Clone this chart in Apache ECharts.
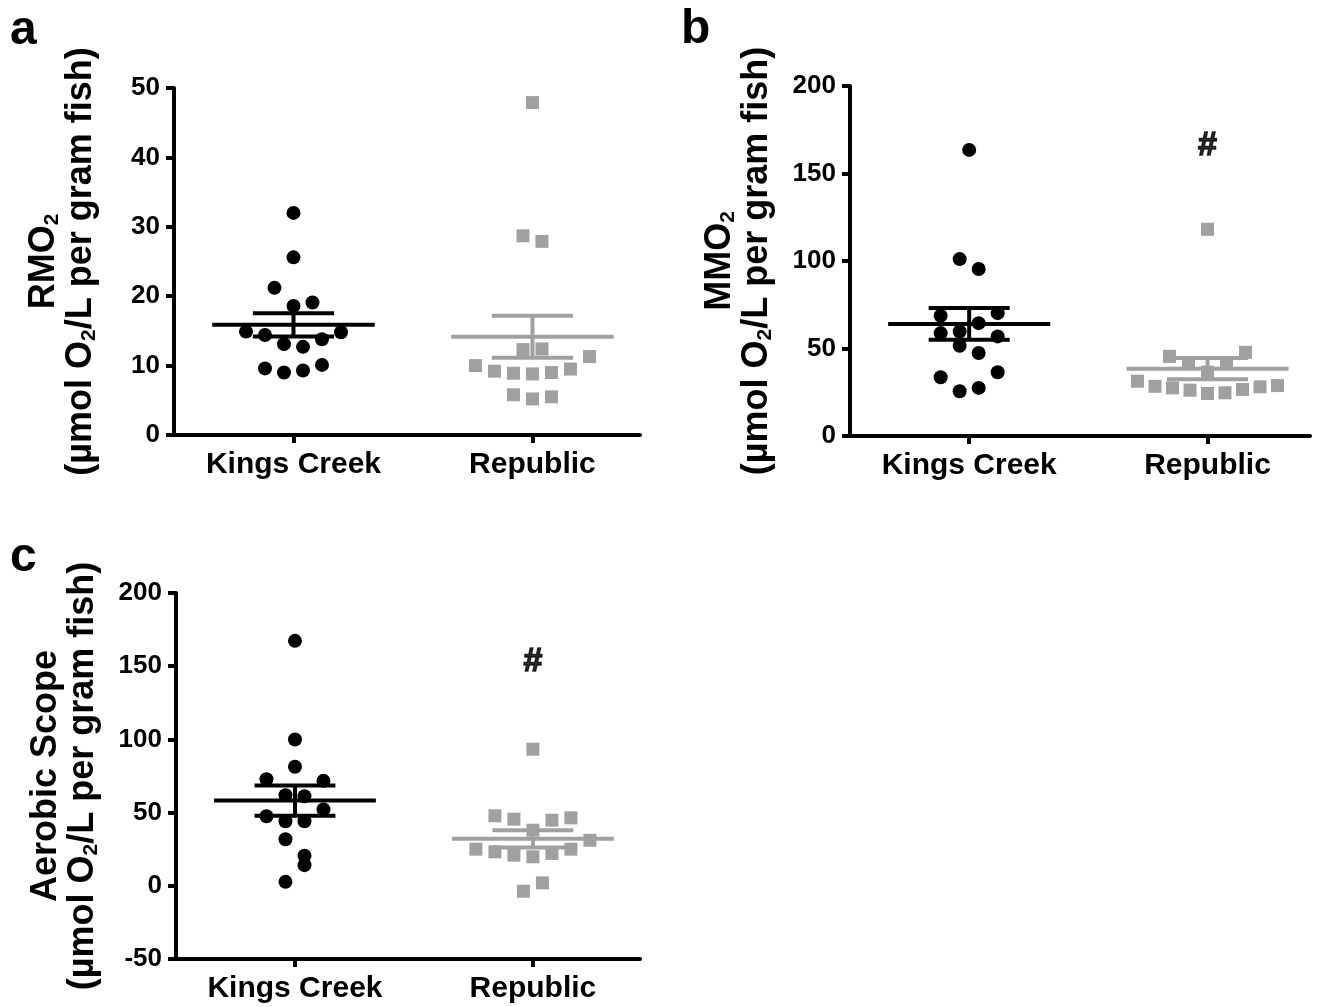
<!DOCTYPE html>
<html>
<head>
<meta charset="utf-8">
<title>RMO2, MMO2 and aerobic scope</title>
<script src="https://cdn.jsdelivr.net/npm/echarts@6/dist/echarts.min.js"></script>
<style>
  html, body { margin: 0; padding: 0; background: #fff; }
  #chart { width: 1340px; height: 1007px; }
</style>
</head>
<body>
<div id="chart"></div>
<script>
// groups on the x axis
const groups = ['Kings Creek', 'Republic'];

// a: RMO2 (µmol O2/L per gram fish)
const rmoKingsCreek = [32.0, 25.6, 21.2, 18.6, 19.1, 14.9, 14.4, 13.1, 12.7, 13.8, 14.8, 9.6, 9.0, 9.3, 10.1];
const rmoRepublic = [47.9, 28.7, 27.9, 12.3, 12.4, 10.0, 9.2, 8.9, 8.8, 9.0, 9.5, 11.3, 5.8, 5.2, 5.5];
const rmoTicks = [0, 10, 20, 30, 40, 50];

// b: MMO2
const mmoKingsCreek = [163.5, 101.1, 95.4, 68.7, 59.7, 64.5, 70.2, 58.8, 51.6, 47.4, 56.9, 33.6, 25.6, 27.5, 36.4];
const mmoRepublic = [118.1, 45.5, 41.8, 36.5, 41.8, 47.8, 31.3, 28.4, 27.5, 26.2, 24.3, 24.7, 26.6, 28.1, 28.8];
const mmoTicks = [0, 50, 100, 150, 200];

// c: aerobic scope
const scopeKingsCreek = [167.3, 99.9, 81.3, 72.8, 61.9, 61.2, 71.7, 47.5, 44.1, 44.1, 52.1, 31.8, 20.5, 2.7, 14.1];
const scopeRepublic = [93.3, 47.8, 45.5, 38.0, 44.8, 46.4, 25.0, 23.2, 20.9, 19.8, 22.1, 25.0, 31.1, -3.7, 2.0];
const scopeTicks = [-50, 0, 50, 100, 150, 200];

const FONT = '"Liberation Sans", Arial, Helvetica, sans-serif';
const GREY = '#a0a0a0';

const unitLine = '{t|(µmol O}{s|2}{t|/L per gram fish)}';
const panels = [
  { letter: 'a', kc: rmoKingsCreek, rep: rmoRepublic, ticks: rmoTicks,
    name: '{t|RMO}{s|2}\n' + unitLine, hash: null,
    grid: { left: 174, top: 88, width: 466, height: 347 }, xMax: 1.45 },
  { letter: 'b', kc: mmoKingsCreek, rep: mmoRepublic, ticks: mmoTicks,
    name: '{t|MMO}{s|2}\n' + unitLine, hash: 166,
    grid: { left: 850, top: 86, width: 460, height: 350 }, xMax: 1.43 },
  { letter: 'c', kc: scopeKingsCreek, rep: scopeRepublic, ticks: scopeTicks,
    name: '{t|Aerobic Scope}\n' + unitLine, hash: 153,
    grid: { left: 176, top: 593, width: 464, height: 366 }, xMax: 1.45 }
];

function meanSem(vals) {
  const n = vals.length;
  const m = vals.reduce((a, b) => a + b, 0) / n;
  const sd = Math.sqrt(vals.reduce((a, b) => a + (b - m) * (b - m), 0) / (n - 1));
  return [m, sd / Math.sqrt(n)];
}

// Prism-like scatter layout: points close in value share a row, spread symmetrically
function spread(vals, pxPerY, pxPerX) {
  const thr = 20.5 / pxPerY;
  const idx = vals.map((v, i) => i).sort((a, b) => vals[a] - vals[b] || a - b);
  const rows = [];
  let cur = null, anchor = 0;
  idx.forEach(i => {
    if (!cur || vals[i] > anchor + thr) { cur = []; rows.push(cur); anchor = vals[i]; }
    cur.push(i);
  });
  const off = new Array(vals.length).fill(0);
  rows.forEach(r => {
    r.sort((a, b) => a - b);
    const n = r.length;
    const step = n > 1 ? Math.min(19, 140 / (n - 1)) : 19;
    r.forEach((i, k) => { off[i] = (k - (n - 1) / 2) * step / pxPerX; });
  });
  return off;
}

function renderBar(params, api) {
  const c = api.value(0), m = api.value(1), e = api.value(2);
  const col = api.visual('color');
  const seg = (x1, y1, x2, y2) => {
    const p = api.coord([x1, y1]), q = api.coord([x2, y2]);
    return { type: 'line', shape: { x1: p[0], y1: p[1], x2: q[0], y2: q[1] },
      style: { stroke: col, lineWidth: 4 } };
  };
  return { type: 'group', children: [
    seg(c - 0.34, m, c + 0.34, m),
    seg(c, m - e, c, m + e),
    seg(c - 0.17, m + e, c + 0.17, m + e),
    seg(c - 0.17, m - e, c + 0.17, m - e)
  ] };
}

const grids = [], xAxes = [], yAxes = [], series = [];
panels.forEach((p, i) => {
  grids.push(Object.assign({ containLabel: false }, p.grid));
  const yMin = p.ticks[0], yMax = p.ticks[p.ticks.length - 1];
  const pxPerY = p.grid.height / (yMax - yMin);
  const pxPerX = p.grid.width / (p.xMax + 0.5);

  xAxes.push({
    gridIndex: i, type: 'value', min: -0.5, max: p.xMax,
    splitLine: { show: false },
    axisLine: { show: true, onZero: false, lineStyle: { color: '#000', width: 4 } },
    axisTick: { show: true, customValues: [0, 1], length: 8, lineStyle: { color: '#000', width: 4 } },
    axisLabel: { customValues: [0, 1], formatter: v => groups[Math.round(v)],
      color: '#000', fontFamily: FONT, fontWeight: 'bold', fontSize: 30, margin: 15 }
  });
  yAxes.push({
    gridIndex: i, type: 'value', min: yMin, max: yMax, interval: p.ticks[1] - p.ticks[0],
    splitLine: { show: false },
    axisLine: { show: true, onZero: false, lineStyle: { color: '#000', width: 4 } },
    axisTick: { show: true, length: 8, lineStyle: { color: '#000', width: 4 } },
    axisLabel: { color: '#000', fontFamily: FONT, fontWeight: 'bold', fontSize: 26, margin: 14 },
    name: p.name, nameLocation: 'middle', nameGap: 74,
    nameTextStyle: {
      color: '#000', fontFamily: FONT, fontWeight: 'bold', fontSize: 36, lineHeight: 37,
      rich: {
        t: { fontFamily: FONT, fontWeight: 'bold', fontSize: 36, lineHeight: 37, color: '#000' },
        s: { fontFamily: FONT, fontWeight: 'bold', fontSize: 21, lineHeight: 15, verticalAlign: 'bottom', color: '#000' }
      }
    }
  });

  const offKc = spread(p.kc, pxPerY, pxPerX);
  const offRep = spread(p.rep, pxPerY, pxPerX);
  series.push({
    type: 'scatter', xAxisIndex: i, yAxisIndex: i, symbol: 'circle', symbolSize: 14,
    itemStyle: { color: '#000', opacity: 1 }, z: 2,
    data: p.kc.map((v, k) => [0 + offKc[k], v])
  });
  series.push({
    type: 'scatter', xAxisIndex: i, yAxisIndex: i, symbol: 'rect', symbolSize: 13,
    itemStyle: { color: GREY, opacity: 1 }, z: 2,
    data: p.rep.map((v, k) => [1 + offRep[k], v])
  });
  series.push({
    type: 'custom', xAxisIndex: i, yAxisIndex: i, renderItem: renderBar, z: 3,
    itemStyle: { color: '#000' }, data: [[0].concat(meanSem(p.kc))]
  });
  series.push({
    type: 'custom', xAxisIndex: i, yAxisIndex: i, renderItem: renderBar, z: 3,
    itemStyle: { color: GREY }, data: [[1].concat(meanSem(p.rep))]
  });
  if (p.hash !== null) {
    series.push({
      type: 'scatter', xAxisIndex: i, yAxisIndex: i, symbolSize: 0, z: 4,
      data: [[1, p.hash]],
      label: { show: true, position: 'inside', formatter: '#', color: '#000',
        fontFamily: FONT, fontWeight: 'bold', fontSize: 34,
        textBorderColor: '#000', textBorderWidth: 1.5 }
    });
  }
});

const letterFont = 'bold 48px ' + FONT;
const graphics = [
  { type: 'text', left: 10, top: 7, style: { text: 'a', font: letterFont, fill: '#000' } },
  { type: 'text', left: 681, top: 6, style: { text: 'b', font: letterFont, fill: '#000' } },
  { type: 'text', left: 10, top: 534, style: { text: 'c', font: letterFont, fill: '#000' } }
];

const chart = echarts.init(document.getElementById('chart'), null, { renderer: 'canvas' });
chart.setOption({
  backgroundColor: '#fff',
  animation: false,
  grid: grids,
  xAxis: xAxes,
  yAxis: yAxes,
  series: series,
  graphic: graphics
});
</script>
</body>
</html>
